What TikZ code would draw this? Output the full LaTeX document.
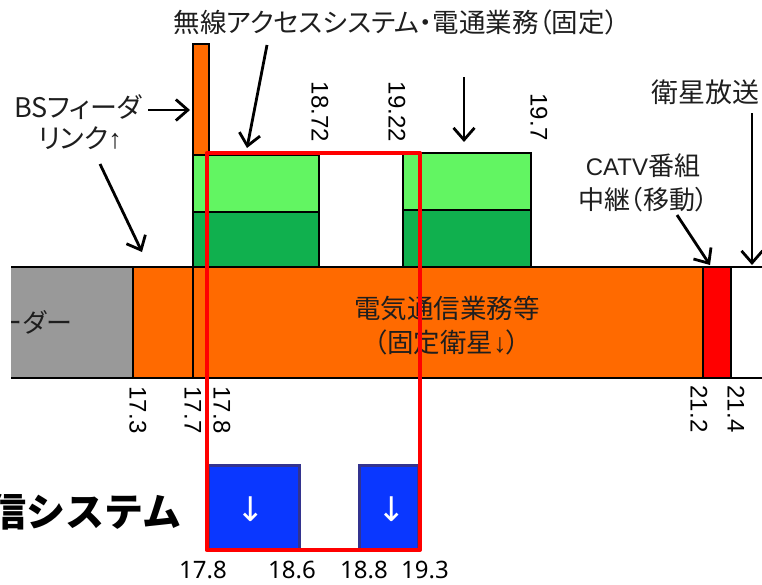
\documentclass[tikz,border=0pt]{standalone}
\usepackage{fontspec}
\setmainfont{Liberation Sans}
\newfontfamily\jp[RawFeature=+palt]{Noto Sans CJK JP}
\newfontfamily\jpb{Noto Sans CJK JP}
\newfontfamily\ns{Noto Sans}
\newfontfamily\dv{DejaVu Sans}
\newfontfamily\lib{Liberation Sans}
\usetikzlibrary{arrows.meta}
\definecolor{bandorange}{HTML}{FF6A00}
\definecolor{bandgray}{HTML}{999999}
\definecolor{lgreen}{HTML}{62F562}
\definecolor{dgreen}{HTML}{10B04E}
\definecolor{sysblue}{HTML}{0A37FF}
\definecolor{navy}{HTML}{33338F}
\definecolor{txt}{HTML}{1E1E1E}
\tikzset{
  box/.style={draw=black, line width=1.6pt},
  jlbl/.style={inner sep=0pt, text=txt, font=\jp\fontsize{#1}{#1}\selectfont},
  vnum/.style={rotate=-90, inner sep=0pt, text=black, font=\fontsize{24}{24}\selectfont},
  hnum/.style={inner sep=0pt, text=black, font=\ns\fontsize{24}{24}\selectfont},
  pointer/.style={-{Straight Barb[length=12pt,width=21pt]}, line width=2.8pt, draw=black},
  bluebox/.style={fill=sysblue, draw=navy, line width=3pt},
  frame/.style={draw=red, line width=4pt, line join=round}
}
\begin{document}
\begin{tikzpicture}[x=1pt,y=-1pt]
\useasboundingbox (0,0) rectangle (762,584);
\fill[white] (0,0) rectangle (762,584);

% main band fills
\fill[bandgray] (11,267) rectangle (133,378);
\fill[bandorange] (133,267) rectangle (703,378);
\fill[red] (703,267) rectangle (731,378);
\begin{scope}
  \clip (11,267) rectangle (133,378);
  \node[jlbl=26, anchor=east] (feeder) at (72,322) {ーダー};
\end{scope}
% band lines
\draw[box] (11,267) -- (762,267);
\draw[box] (11,378) -- (762,378);
\draw[box] (133,267) -- (133,378);
\draw[box] (193,267) -- (193,378);
\draw[box] (703,267) -- (703,378);
\draw[box] (731,267) -- (731,378);

% BS feeder link bar
\draw[box, fill=bandorange] (193,44) rectangle (209,155);
% green blocks
\draw[box, fill=lgreen] (193,155) rectangle (319,212);
\draw[box, fill=dgreen] (193,212) rectangle (319,267);
\draw[box, fill=lgreen] (403,153) rectangle (531,210);
\draw[box, fill=dgreen] (403,210) rectangle (531,267);

% band texts
\node[jlbl=26.5] (fss1) at (447,308) {電気通信業務等};
\node[jlbl=26.5] (fss2) at (447,342) {（固定衛星{\lib ↓}）};

% title and labels
\node[jlbl=26.5] (title) at (396,22) {無線アクセスシステム・電通業務（固定）};
\node[jlbl=27] (bs1) at (78,107) {BSフィーダ};
\node[jlbl=27] (bs2) at (80,138) {リンク{\lib ↑}};
\node[jlbl=27, anchor=west] (bss) at (651,92) {衛星放送};
\node[jlbl=26] (catv1) at (643,166) {{\lib\fontsize{24}{24}\selectfont CATV}番組};
\node[jlbl=26] (catv2) at (643,200) {中継（移動）};

% rotated frequencies
\node[vnum] (f1872) at (320,112) {18.72};
\node[vnum] (f1922) at (397,112) {19.22};
\node[vnum] (f197) at (539,117) {19.7};
\node[vnum] (f173) at (138,410) {17.3};
\node[vnum] (f177) at (193,410) {17.7};
\node[vnum] (f178) at (222,410) {17.8};
\node[vnum] (f212) at (699,409) {21.2};
\node[vnum] (f214) at (736,409) {21.4};

% arrow ends
\coordinate (a1s) at (267,45);
\coordinate (a1e) at (247,148);
\coordinate (a2s) at (464,77);
\coordinate (a2e) at (464,142);
\coordinate (b1s) at (148,110);
\coordinate (b1e) at (190,110);
\coordinate (b2s) at (100,164);
\coordinate (b2e) at (142,252);
\coordinate (s1s) at (752,113);
\coordinate (s1e) at (752,265);
\coordinate (c1s) at (677,215);
\coordinate (c1e) at (710,265);
\draw[pointer] (a1s) -- (a1e);
\draw[pointer] (a2s) -- (a2e);
\draw[pointer] (b1s) -- (b1e);
\draw[pointer] (b2s) -- (b2e);
\draw[pointer] (s1s) -- (s1e);
\draw[pointer] (c1s) -- (c1e);

% new system blocks
\draw[bluebox] (208,550) -- (208,465) -- (299,465) -- (299,550);
\fill[sysblue] (209.5,466.5) rectangle (297.5,550);
\draw[bluebox] (359,550) -- (359,465) -- (418,465) -- (418,550);
\fill[sysblue] (360.5,466.5) rectangle (416.5,550);
\node[inner sep=0pt, text=white, font=\dv\fontsize{34}{34}\selectfont] (d1) at (251,509) {↓};
\node[inner sep=0pt, text=white, font=\dv\fontsize{34}{34}\selectfont] (d2) at (392,509) {↓};

\node[inner sep=0pt, anchor=east, text=black, font=\jpb\bfseries\fontsize{39}{39}\selectfont] (sys) at (182,512) {信システム};

\node[hnum] (n178) at (203,570) {17.8};
\node[hnum] (n186) at (292,570) {18.6};
\node[hnum] (n188) at (364,570) {18.8};
\node[hnum] (n193) at (425,570) {19.3};

% red frame
\draw[frame] (206.5,153) rectangle (420,550);
\end{tikzpicture}
\end{document}
